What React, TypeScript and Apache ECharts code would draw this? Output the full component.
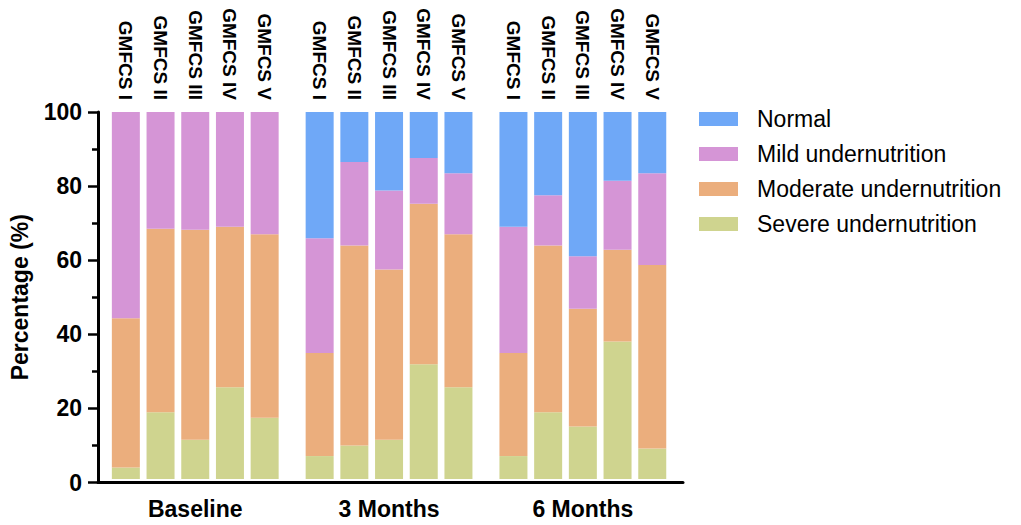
import React, { useEffect, useRef } from "react";
import * as echarts from "echarts";

const groups = ["Baseline", "3 Months", "6 Months"];
const levels = ["GMFCS I", "GMFCS II", "GMFCS III", "GMFCS IV", "GMFCS V"];
const seriesNames = ["Severe undernutrition", "Moderate undernutrition", "Mild undernutrition", "Normal"];
const legendOrder = ["Normal", "Mild undernutrition", "Moderate undernutrition", "Severe undernutrition"];
const yTicks = [0, 20, 40, 60, 80, 100];

// segment percentages, 5 bars per group: Baseline, 3 Months, 6 Months
const severe = [3.1, 18.2, 10.7, 25.0, 16.7, 6.25, 9.1, 10.7, 31.25, 25.0, 6.25, 18.2, 14.3, 37.5, 8.3];
const moderate = [40.7, 50.0, 57.2, 43.75, 50.0, 28.1, 54.5, 46.4, 43.75, 41.7, 28.1, 45.4, 32.1, 25.0, 50.0];
const mild = [56.2, 31.8, 32.1, 31.25, 33.3, 31.25, 22.8, 21.5, 12.5, 16.6, 34.4, 13.7, 14.3, 18.75, 25.0];
const normal = [0, 0, 0, 0, 0, 34.4, 13.6, 21.4, 12.5, 16.7, 31.25, 22.7, 39.3, 18.75, 16.7];

const seriesValues = [severe, moderate, mild, normal];
const colors = ["#CFD48F", "#EBAE7D", "#D595D6", "#6FA8F7"];

const FONT = "'Liberation Sans', Arial, sans-serif";

export default function App() {
  const ref = useRef<HTMLDivElement>(null);
  useEffect(() => {
    if (!ref.current) return;
    const chart = echarts.init(ref.current, null, { renderer: "svg" });
    const plotTop = 112;
    const plotHeight = 370.5;
    const groupLefts = [108.5, 302.3, 496.1];
    const groupWidth = 173.5;

    const grid: any[] = [{ left: 96, width: 587, top: plotTop, height: plotHeight }];
    const xAxis: any[] = [
      {
        gridIndex: 0,
        type: "value",
        min: 0,
        max: 1,
        axisLine: { show: true, onZero: false, lineStyle: { color: "#000", width: 3 } },
        axisTick: { show: false },
        axisLabel: { show: false },
        splitLine: { show: false },
      },
    ];
    const yAxis: any[] = [
      {
        gridIndex: 0,
        type: "value",
        min: 0,
        max: 100,
        interval: 20,
        name: "Percentage (%)",
        nameLocation: "middle",
        nameGap: 67,
        nameTextStyle: { fontFamily: FONT, fontWeight: "bold", fontSize: 23, color: "#000" },
        axisLine: { show: true, lineStyle: { color: "#000", width: 3 } },
        axisTick: { show: true, length: 10, lineStyle: { color: "#000", width: 2.5 } },
        minorTick: { show: true, splitNumber: 2, length: 6, lineStyle: { color: "#000", width: 2.5 } },
        axisLabel: {
          margin: 16,
          fontFamily: FONT,
          fontWeight: "bold",
          fontSize: 23,
          color: "#000",
          formatter: (v: number) => (yTicks.includes(v) ? String(v) : ""),
        },
        splitLine: { show: false },
      },
    ];
    const series: any[] = [];

    groups.forEach((g, gi) => {
      const gridIndex = gi + 1;
      grid.push({ left: groupLefts[gi], width: groupWidth, top: plotTop, height: plotHeight });
      const bottomIdx = xAxis.length;
      xAxis.push({
        gridIndex,
        type: "category",
        data: levels,
        position: "bottom",
        name: g,
        nameLocation: "middle",
        nameGap: 18,
        nameTextStyle: { fontFamily: FONT, fontWeight: "bold", fontSize: 23, color: "#000", verticalAlign: "top" },
        axisLine: { show: false },
        axisTick: { show: false },
        axisLabel: { show: false },
      });
      xAxis.push({
        gridIndex,
        type: "category",
        data: levels,
        position: "top",
        axisLine: { show: false },
        axisTick: { show: false },
        axisLabel: {
          show: true,
          rotate: 90,
          margin: 12,
          interval: 0,
          fontFamily: FONT,
          fontWeight: "bold",
          fontSize: 19,
          color: "#000",
        },
      });
      const yIdx = yAxis.length;
      yAxis.push({
        gridIndex,
        type: "value",
        min: 0,
        max: 100,
        show: false,
        splitLine: { show: false },
      });
      seriesNames.forEach((name, si) => {
        series.push({
          name,
          type: "bar",
          xAxisIndex: bottomIdx,
          yAxisIndex: yIdx,
          stack: "g" + gi,
          barWidth: 28,
          itemStyle: { color: colors[si] },
          data: seriesValues[si].slice(gi * 5, gi * 5 + 5),
        });
      });
    });

    chart.setOption({
      animation: false,
      backgroundColor: "#fff",
      textStyle: { fontFamily: FONT },
      grid,
      xAxis,
      yAxis,
      legend: {
        orient: "vertical",
        left: 694,
        top: 102,
        data: legendOrder,
        icon: "rect",
        itemWidth: 39,
        itemHeight: 14,
        itemGap: 11,
        textStyle: { fontFamily: FONT, fontSize: 23, color: "#000", lineHeight: 24, padding: [0, 0, 0, 14] },
        selectedMode: false,
      },
      series,
    });
    return () => chart.dispose();
  }, []);
  return <div ref={ref} style={{ position: "fixed", left: 0, top: 0, width: 1021, height: 525 }} />;
}
